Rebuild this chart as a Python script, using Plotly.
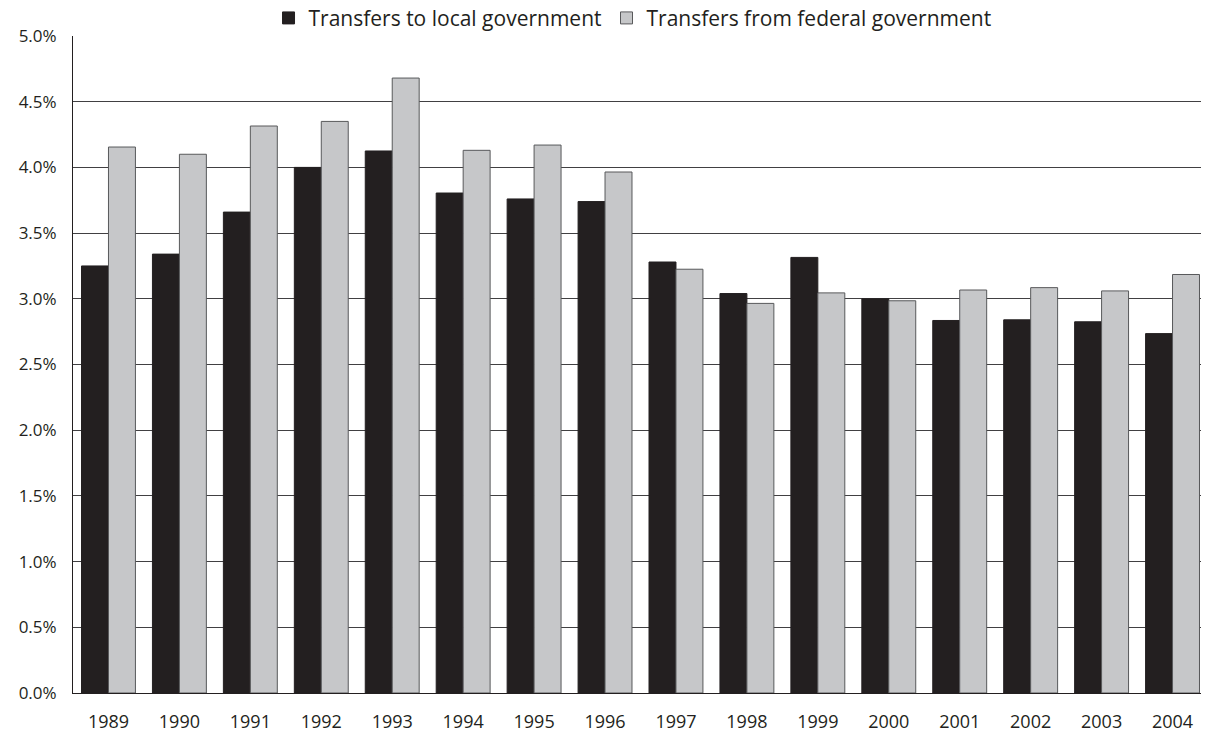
import plotly.graph_objects as go

# Transfers as % of GDP
years = ["1989", "1990", "1991", "1992", "1993", "1994", "1995", "1996",
         "1997", "1998", "1999", "2000", "2001", "2002", "2003", "2004"]

to_local = [3.25, 3.34, 3.66, 4.00, 4.125, 3.805, 3.76, 3.74,
            3.28, 3.04, 3.315, 3.00, 2.835, 2.84, 2.825, 2.735]

from_federal = [4.155, 4.10, 4.315, 4.35, 4.68, 4.13, 4.17, 3.965,
                3.225, 2.965, 3.045, 2.985, 3.067, 3.085, 3.06, 3.185]

y_ticks = [0.0, 0.5, 1.0, 1.5, 2.0, 2.5, 3.0, 3.5, 4.0, 4.5, 5.0]

ink = "#231f20"
grey = "#c6c7c9"

fig = go.Figure()

fig.add_trace(go.Bar(x=years, y=to_local, name="Transfers to local government",
                     marker=dict(color=ink, line=dict(color=ink, width=1))))
fig.add_trace(go.Bar(x=years, y=from_federal, name="Transfers from federal government",
                     marker=dict(color=grey, line=dict(color="#58595b", width=1))))

# the page body adds an 8px margin, so the figure is a bit smaller than the window
fig.update_layout(
    width=1201, height=725,
    margin=dict(l=65, r=1, t=28, b=40, autoexpand=False),
    paper_bgcolor="white", plot_bgcolor="white",
    barmode="group", bargap=0.24, bargroupgap=0,
    font=dict(family="Open Sans, Lato, sans-serif", color=ink, size=16),
    legend=dict(orientation="h", x=0.52, xanchor="center", xref="container",
                y=1.027, yref="paper", yanchor="middle",
                font=dict(size=21), itemwidth=30, traceorder="normal"),
    showlegend=True,
)

fig.update_xaxes(showgrid=False, showline=True, linecolor=ink, linewidth=1,
                 ticks="", ticklabelstandoff=12, tickfont=dict(size=18))

fig.update_yaxes(range=[0, 5.0], tickvals=y_ticks,
                 ticktext=[f"{v:.1f}%" for v in y_ticks],
                 showgrid=True, gridcolor="#414042", gridwidth=1,
                 showline=True, linecolor=ink, linewidth=1,
                 zeroline=False, ticks="", ticklabelstandoff=12,
                 tickfont=dict(size=17))

fig.write_html("out.html")
